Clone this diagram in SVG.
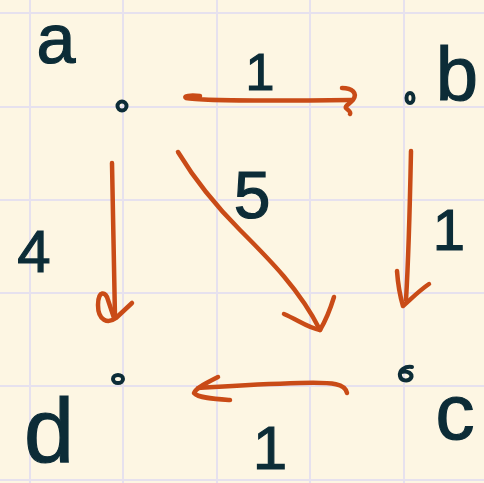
<svg xmlns="http://www.w3.org/2000/svg" width="484" height="483" viewBox="0 0 484 483">
  <style>
    .grid line { stroke: #e6e1ee; stroke-width: 2; }
    .lbl { font-family: "Liberation Sans", "DejaVu Sans", sans-serif; fill: #0c2c37; stroke: #0c2c37; stroke-width: 1.2; text-anchor: middle; }
    .edge { fill: none; stroke: #c94b17; stroke-width: 4.5; stroke-linecap: round; stroke-linejoin: round; }
    .dot { fill: none; stroke: #0c2c37; stroke-width: 4; stroke-linecap: round; }
  </style>
  <rect width="484" height="483" fill="#fdf6e3"/>
  <g class="grid">
    <line x1="30" y1="0" x2="30" y2="483"/>
    <line x1="123" y1="0" x2="123" y2="483"/>
    <line x1="217" y1="0" x2="217" y2="483"/>
    <line x1="310" y1="0" x2="310" y2="483"/>
    <line x1="404" y1="0" x2="404" y2="483"/>
    <line x1="0" y1="13" x2="484" y2="13"/>
    <line x1="0" y1="107" x2="484" y2="107"/>
    <line x1="0" y1="200" x2="484" y2="200"/>
    <line x1="0" y1="293" x2="484" y2="293"/>
    <line x1="0" y1="386" x2="484" y2="386"/>
    <line x1="0" y1="480" x2="484" y2="480"/>
  </g>
  <g id="connectors">
    <path class="edge" d="M200,96 C190,95 183,96 186,98 C200,101 260,101 352,100"/>
    <path class="edge" d="M342,88 C352,88 358,93 353,100 C350,104 343,106 347,109 C349,111 351,112 350,114"/>
    <path class="edge" d="M112,163 C113,210 114,270 115,318"/>
    <path class="edge" d="M132,303 L116,318 C108,324 98,321 98,305 C98,290 106,291 108,300 L114,318"/>
    <path class="edge" d="M178,152 C195,180 215,205 240,230 C270,260 300,290 320,330"/>
    <path class="edge" d="M284,314 C298,320 308,328 320,330 C326,320 330,310 334,297"/>
    <path class="edge" d="M411,151 C410,200 409,250 406,300"/>
    <path class="edge" d="M397,271 C398,285 400,296 403,306 C412,298 420,290 429,284"/>
    <path class="edge" d="M347,393 C345,384 335,382 300,383 C260,384 230,386 198,388"/>
    <path class="edge" d="M218,377 C208,382 196,388 194,393 C198,398 215,399 230,400"/>
  </g>
  <g id="node-a">
    <circle class="dot" cx="122" cy="106" r="4.5"/>
    <text class="lbl" x="56" y="63" font-size="70">a</text>
  </g>
  <g id="node-b">
    <ellipse class="dot" cx="410" cy="98" rx="3.5" ry="5"/>
    <text class="lbl" x="457" y="100" font-size="76">b</text>
  </g>
  <g id="node-c">
    <path class="dot" d="M412,367 C405,366 399,370 400,376 C401,381 408,382 411,378 C413,374 408,370 401,372"/>
    <text class="lbl" x="455" y="439" font-size="78">c</text>
  </g>
  <g id="node-d">
    <ellipse class="dot" cx="118" cy="379" rx="5" ry="4"/>
    <text class="lbl" x="49" y="462" font-size="90">d</text>
  </g>
  <g id="weights">
    <text class="lbl" x="260" y="90" font-size="52">1</text>
    <text class="lbl" x="252" y="218" font-size="66">5</text>
    <text class="lbl" x="34" y="272" font-size="60">4</text>
    <text class="lbl" x="449" y="250" font-size="58">1</text>
    <text class="lbl" x="270" y="469" font-size="62">1</text>
  </g>
</svg>
